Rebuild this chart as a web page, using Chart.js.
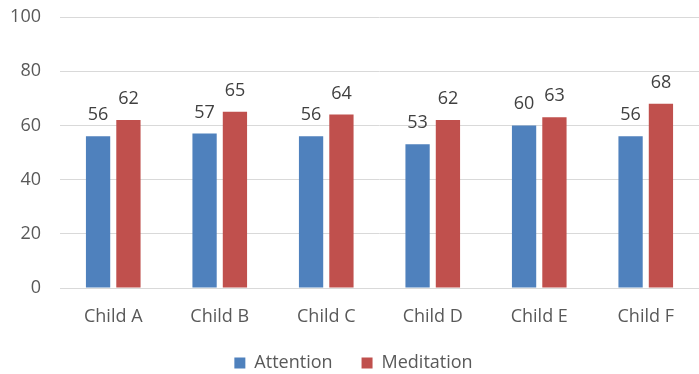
<!DOCTYPE html>
<html>
<head>
<meta charset="utf-8">
<script src="https://cdn.jsdelivr.net/npm/chart.js@4.4.1/dist/chart.umd.min.js"></script>
<style>
  body { margin: 0; background: #fff; }
  #wrap { width: 699px; height: 374px; }
</style>
</head>
<body>
<div id="wrap"><canvas id="scoresChart" width="699" height="374"></canvas></div>
<script>
const categories = ["Child A", "Child B", "Child C", "Child D", "Child E", "Child F"];
const attention = [56, 57, 56, 53, 60, 56];
const meditation = [62, 65, 64, 62, 63, 68];
const yTicks = [0, 20, 40, 60, 80, 100];

const fontFamily = "'Open Sans', 'Liberation Sans', sans-serif";
const textColor = "#595959";

// writes each bar's value just above it
const valueLabels = {
  id: "valueLabels",
  afterDatasetsDraw(chart) {
    const ctx = chart.ctx;
    ctx.save();
    ctx.font = "18px " + fontFamily;
    ctx.fillStyle = "#404040";
    ctx.textAlign = "center";
    ctx.textBaseline = "alphabetic";
    chart.data.datasets.forEach((ds, i) => {
      chart.getDatasetMeta(i).data.forEach((bar, j) => {
        ctx.fillText(ds.data[j], bar.x, bar.y - 16);
      });
    });
    ctx.restore();
  },
};

new Chart(document.getElementById("scoresChart"), {
  type: "bar",
  data: {
    labels: categories,
    datasets: [
      {
        label: "Attention",
        data: attention,
        backgroundColor: "#4f81bd",
        categoryPercentage: 0.57,
        barPercentage: 0.8,
      },
      {
        label: "Meditation",
        data: meditation,
        backgroundColor: "#c0504d",
        categoryPercentage: 0.57,
        barPercentage: 0.8,
      },
    ],
  },
  options: {
    responsive: false,
    animation: false,
    // the legend's wide item gap also pads it below, so let that spare room overhang
    layout: { padding: { top: 0, right: 0, left: 8, bottom: -8 } },
    scales: {
      x: {
        grid: { display: false, drawTicks: false },
        border: { color: "#d9d9d9", width: 1 },
        ticks: { color: textColor, font: { family: fontFamily, size: 18 }, padding: 18 },
        afterFit: (axis) => {
          axis.height = 37;
        },
      },
      y: {
        min: 0,
        max: 100,
        afterBuildTicks: (axis) => {
          axis.ticks = yTicks.map((v) => ({ value: v }));
        },
        grid: { color: "#d9d9d9", drawTicks: false },
        border: { display: false },
        ticks: { color: textColor, font: { family: fontFamily, size: 18 }, padding: 19 },
        afterFit: (axis) => {
          axis.width = 52;
          axis.paddingTop = 17;
          axis.paddingBottom = 0;
        },
      },
    },
    plugins: {
      legend: {
        position: "bottom",
        labels: {
          color: textColor,
          font: { family: fontFamily, size: 18 },
          boxWidth: 11,
          boxHeight: 11,
          padding: 29,
        },
      },
      tooltip: { enabled: false },
    },
  },
  plugins: [valueLabels],
});
</script>
</body>
</html>
